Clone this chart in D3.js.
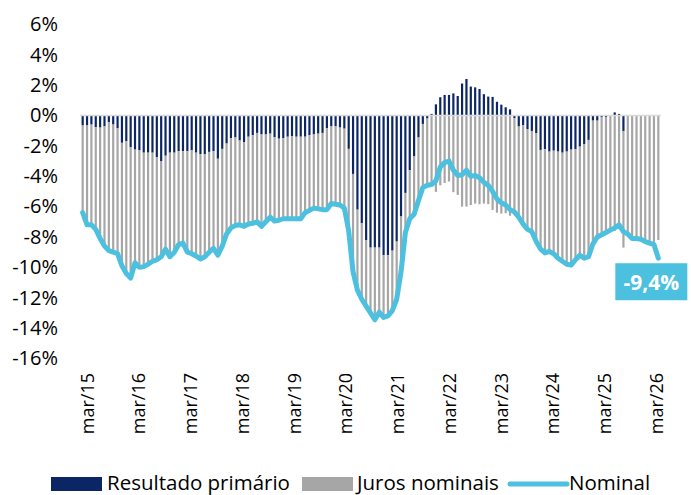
<!DOCTYPE html>
<html><head><meta charset="utf-8">
<script src="https://cdn.jsdelivr.net/npm/d3@7"></script>
<style>body{margin:0;background:#fff}svg{display:block}text{font-family:"Open Sans",Lato,sans-serif}</style>
</head><body><svg id="c" width="691" height="495"></svg>
<script>
// ---- DATA (% of GDP, 12-month accumulated) ----
const months = d3.timeMonth.range(new Date(2015, 2, 1), new Date(2026, 3, 1)); // mar/15 .. mar/26
const tickLabels = ["mar/15","mar/16","mar/17","mar/18","mar/19","mar/20","mar/21","mar/22","mar/23","mar/24","mar/25","mar/26"];
const primary = [-0.66,-0.66,-0.6,-0.77,-0.8,-0.72,-0.45,-0.6,-0.85,-1.8,
 -1.7,-2.1,-2.25,-2.3,-2.45,-2.45,-2.45,-2.75,-3.0,-2.65,
 -2.45,-2.45,-2.35,-2.35,-2.35,-2.3,-2.45,-2.55,-2.55,-2.4,
 -2.35,-2.85,-2.2,-1.85,-1.5,-1.45,-1.65,-1.75,-1.4,-1.3,
 -1.15,-1.25,-1.25,-1.2,-1.43,-1.53,-1.5,-1.4,-1.37,-1.4,
 -1.4,-1.4,-1.3,-1.25,-1.2,-1.15,-0.83,-0.72,-0.72,-0.8,
 -0.87,-2.2,-3.85,-6.2,-7.1,-8.2,-8.7,-8.7,-8.7,-9.2,
 -9.2,-8.9,-8.3,-6.65,-5.1,-3.6,-2.7,-1.45,-0.56,-0.2,
 0.1,0.73,1.2,1.35,1.35,1.45,1.28,2.1,2.4,1.9,
 1.85,1.74,1.4,1.24,1.22,0.9,0.71,0.54,0.4,-0.18,
 -0.73,-0.63,-0.91,-1.02,-1.18,-2.27,-2.22,-2.38,-2.32,-2.38,
 -2.45,-2.38,-2.25,-2.22,-2.05,-1.88,-1.61,-0.34,-0.34,-0.1,
 -0.1,0,0.2,0.1,-1.02,0,0,0,0,0,
 0,0,0];
const interest = [-5.74,-6.54,-6.6,-6.73,-7.3,-7.88,-8.45,-8.4,-8.25,-8.1,
 -8.7,-8.6,-7.45,-7.7,-7.5,-7.35,-7.15,-6.75,-6.3,-6.15,
 -6.85,-6.55,-6.15,-6.05,-6.65,-6.8,-6.8,-6.9,-6.75,-6.6,
 -6.4,-6.35,-6.4,-5.95,-5.9,-5.8,-5.55,-5.55,-5.75,-5.8,
 -5.85,-6.05,-5.75,-5.5,-5.52,-5.37,-5.3,-5.4,-5.43,-5.4,
 -5.4,-5.0,-4.95,-4.85,-4.95,-5.05,-5.37,-5.08,-5.13,-5.1,
 -5.23,-5.4,-6.45,-5.3,-5.0,-4.35,-4.3,-4.75,-4.25,-4.1,
 -4.0,-3.95,-3.8,-3.65,-2.6,-3.2,-3.8,-4.15,-4.19,-4.4,
 -4.65,-5.03,-4.6,-4.45,-4.35,-5.05,-5.23,-6.0,-6.0,-5.9,
 -5.8,-5.84,-5.8,-5.84,-6.22,-6.4,-6.46,-6.44,-6.6,-6.17,
 -5.97,-6.52,-6.59,-6.63,-7.12,-6.53,-6.83,-6.57,-6.78,-7.02,
 -7.15,-7.42,-7.6,-7.28,-7.15,-7.52,-7.69,-8.11,-7.66,-7.75,
 -7.6,-7.55,-7.6,-7.3,-7.68,-7.8,-8.1,-8.1,-8.15,-8.3,
 -8.4,-8.5,-8.2];
const nominal = [-6.4,-7.2,-7.2,-7.5,-8.1,-8.6,-8.9,-9.0,-9.1,-9.9,
 -10.4,-10.7,-9.7,-10.0,-9.95,-9.8,-9.6,-9.5,-9.3,-8.8,
 -9.3,-9.0,-8.5,-8.4,-9.0,-9.1,-9.25,-9.45,-9.3,-9.0,
 -8.75,-9.2,-8.6,-7.8,-7.4,-7.25,-7.2,-7.3,-7.15,-7.1,
 -7.0,-7.3,-7.0,-6.7,-6.95,-6.9,-6.8,-6.8,-6.8,-6.8,
 -6.8,-6.4,-6.25,-6.1,-6.15,-6.2,-6.2,-5.8,-5.85,-5.9,
 -6.1,-7.6,-10.3,-11.5,-12.1,-12.55,-13.0,-13.45,-12.95,-13.3,
 -13.2,-12.85,-12.1,-10.3,-7.7,-6.8,-6.5,-5.6,-4.75,-4.6,
 -4.55,-4.3,-3.4,-3.1,-3.0,-3.6,-3.95,-3.9,-3.6,-4.0,
 -3.95,-4.1,-4.4,-4.6,-5.0,-5.5,-5.75,-5.9,-6.2,-6.35,
 -6.7,-7.15,-7.5,-7.65,-8.3,-8.8,-9.05,-8.95,-9.1,-9.4,
 -9.6,-9.8,-9.85,-9.5,-9.2,-9.4,-9.3,-8.45,-8.0,-7.85,
 -7.7,-7.55,-7.4,-7.2,-7.65,-7.8,-8.1,-8.1,-8.15,-8.3,
 -8.4,-8.5,-9.4];
const seriesNames = ["Resultado primário","Juros nominais","Nominal"];
const yTicks = [-16,-14,-12,-10,-8,-6,-4,-2,0,2,4,6];

// ---- STYLE ----
const NAVY = "#0b2565", GRAY = "#a6a6a6", BLUE = "#4cc0df";

const svg = d3.select("#c");
const idx = months.map((d, i) => i);
const x = d3.scaleBand().domain(idx).range([80.5, 660.5]).paddingInner(0.5).paddingOuter(0.25);
const bw = x.bandwidth();
const cx = i => x(i) + bw / 2;
const y = d3.scaleLinear().domain([-16, 6]).range([358.5, 24.3]);

// y axis
const yAxis = svg.append("g").attr("transform", "translate(58,0)")
  .call(d3.axisLeft(y).tickValues(yTicks).tickFormat(d => d + "%").tickSize(0).tickPadding(0));
yAxis.select(".domain").remove();
yAxis.selectAll("text").attr("font-family", "Open Sans").attr("font-size", 20).attr("fill", "#000");

// stacked bars
const rows = idx.map(i => ({ i, primary: primary[i], interest: interest[i] }));
const stack = d3.stack().keys(["primary", "interest"]).offset(d3.stackOffsetDiverging)(rows);
const colors = { primary: NAVY, interest: GRAY };
svg.append("g").selectAll("g").data(stack).join("g")
  .attr("fill", s => colors[s.key])
  .selectAll("rect").data(s => s).join("rect")
  .attr("x", d => x(d.data.i))
  .attr("width", bw)
  .attr("y", d => y(Math.max(d[0], d[1])))
  .attr("height", d => Math.abs(y(d[0]) - y(d[1])));

// zero line
svg.append("line").attr("x1", x(0) - 1.5).attr("x2", x(idx.length - 1) + bw + 1.5)
  .attr("y1", y(0)).attr("y2", y(0)).attr("stroke", "#d9d9d9").attr("stroke-width", 1.5);

// nominal line
svg.append("path").datum(nominal)
  .attr("fill", "none").attr("stroke", BLUE).attr("stroke-width", 5)
  .attr("stroke-linejoin", "round").attr("stroke-linecap", "round")
  .attr("d", d3.line().x((d, i) => cx(i)).y(d => y(d)));

// x tick labels
const xl = d3.scalePoint().domain(tickLabels).range([86.5, 655.8]);
svg.append("g").selectAll("text").data(tickLabels).join("text")
  .attr("transform", d => `translate(${xl(d)},373) rotate(-90)`)
  .attr("text-anchor", "end").attr("dominant-baseline", "central")
  .attr("font-size", 18).attr("fill", "#000").text(d => d);

// last value label
const last = nominal[nominal.length - 1];
const fmt = v => d3.format(".1f")(v).replace(".", ",").replace("−", "-") + "%";
const lx = cx(nominal.length - 1), ly = y(last);
svg.append("rect").attr("x", lx - 43).attr("y", ly + 5).attr("width", 72).attr("height", 37).attr("fill", BLUE);
svg.append("text").attr("x", lx - 7).attr("y", ly + 24).attr("text-anchor", "middle")
  .attr("dominant-baseline", "central").attr("font-weight", "bold").attr("font-size", 21)
  .attr("fill", "#fff").text(fmt(last));

// legend
const lg = svg.append("g");
const items = [
  { name: seriesNames[0], type: "rect", color: NAVY, x0: 51, w: 51, tx: 107 },
  { name: seriesNames[1], type: "rect", color: GRAY, x0: 302, w: 51, tx: 357 },
  { name: seriesNames[2], type: "line", color: BLUE, x0: 510, w: 57, tx: 569 }
];
items.forEach(it => {
  if (it.type === "rect") lg.append("rect").attr("x", it.x0).attr("y", 477).attr("width", it.w).attr("height", 14).attr("fill", it.color);
  else lg.append("line").attr("x1", it.x0).attr("x2", it.x0 + it.w).attr("y1", 484).attr("y2", 484)
    .attr("stroke", it.color).attr("stroke-width", 5).attr("stroke-linecap", "round");
  lg.append("text").attr("x", it.tx).attr("y", 489.5).attr("font-size", 20.5).attr("fill", "#000").text(it.name);
});
</script></body></html>
